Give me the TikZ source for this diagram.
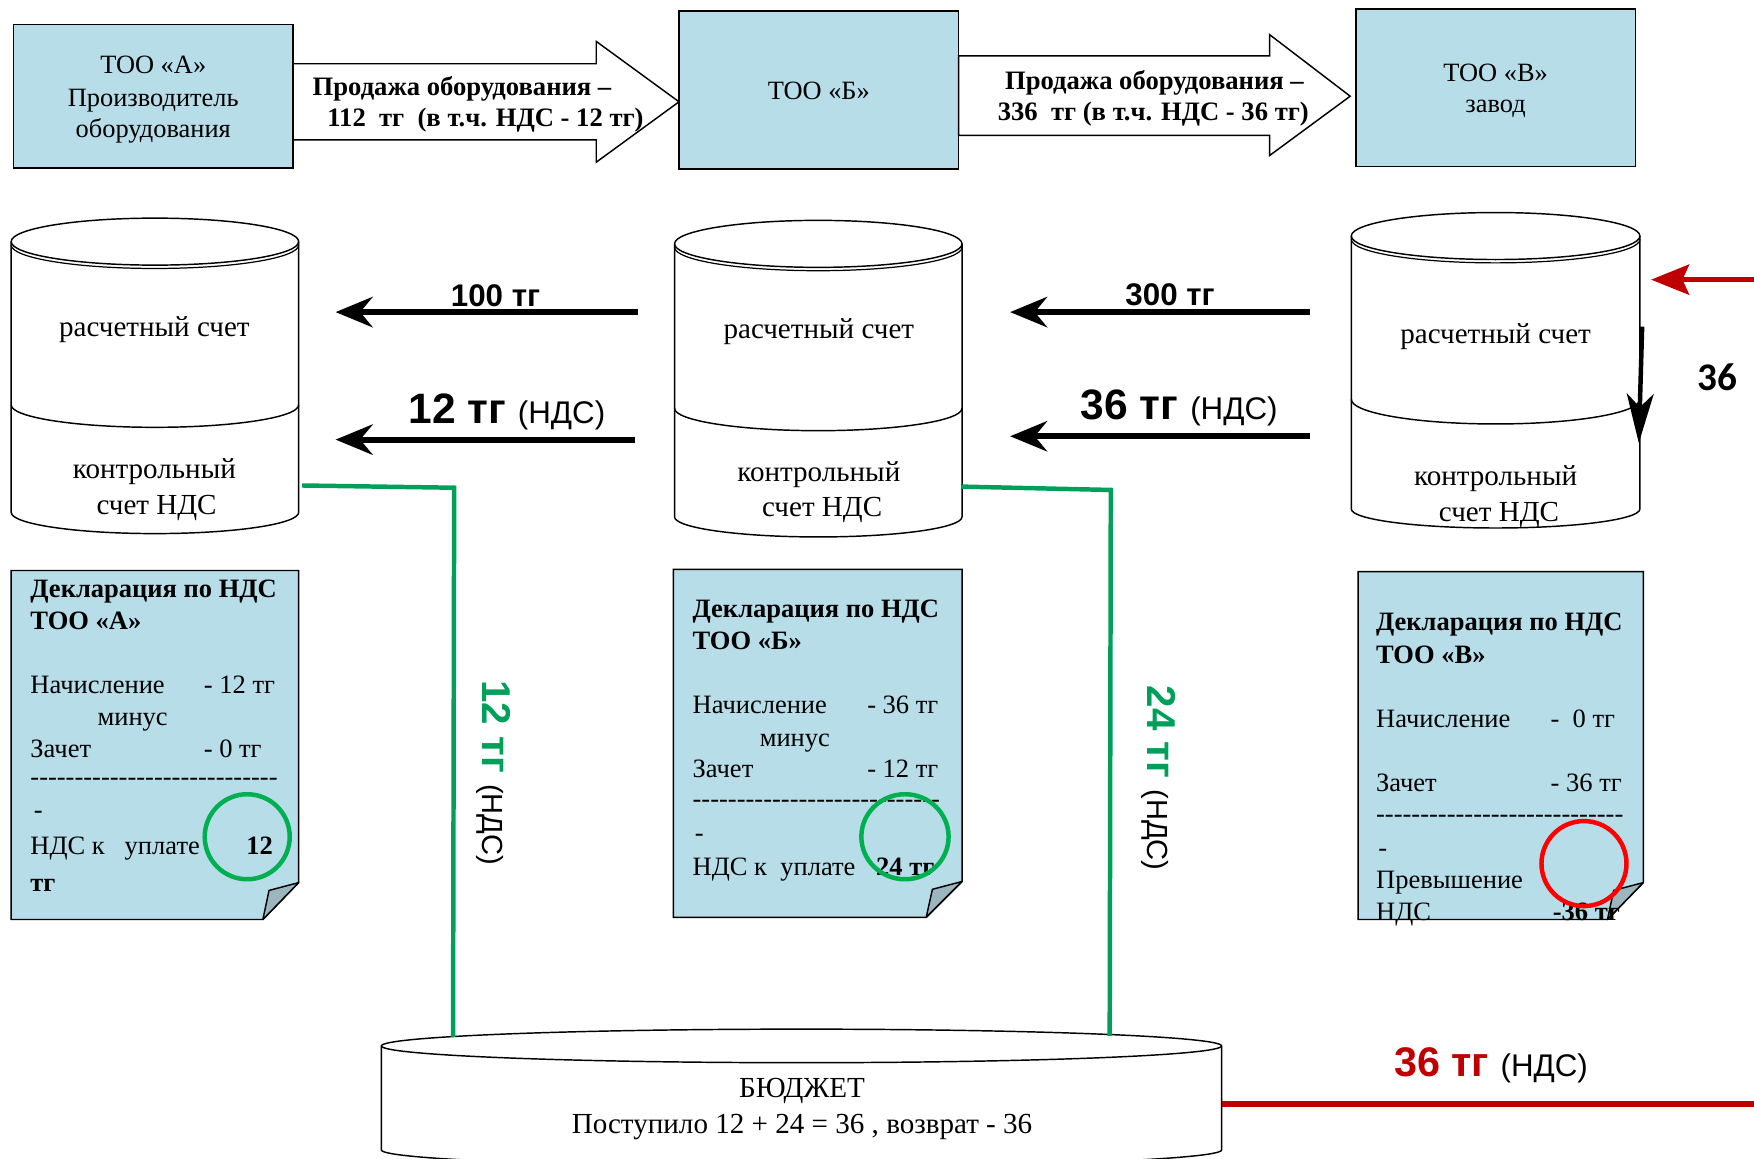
\documentclass[tikz,border=0pt]{standalone}
\usepackage{fontspec}
\setmainfont{Liberation Serif}
\newfontfamily\arialf{Liberation Sans}
\newfontfamily\carlitof{Carlito}
\usetikzlibrary{arrows.meta}
\definecolor{boxblue}{HTML}{B7DDE8}
\definecolor{flapgray}{HTML}{9BB6BE}
\definecolor{lgreen}{HTML}{00A05A}
\definecolor{cgreen}{HTML}{00B050}
\definecolor{dred}{HTML}{C00000}
\definecolor{bred}{HTML}{FF0000}
\newcommand\mydashrow{-{}-{}-{}-{}-{}-{}-{}-{}-{}-{}-{}-{}-{}-{}-{}-{}-{}-{}-{}-{}-{}-{}-{}-{}-{}-{}-{}-}
\begin{document}
\begin{tikzpicture}[x=1pt,y=-1pt,
  txt/.style={inner sep=0pt, anchor=base, font=\fontsize{23.7}{28}\selectfont},
  txtl/.style={txt, anchor=base west},
  txtr/.style={txt, anchor=base east},
  btxt/.style={txtl, font=\fontsize{23.7}{28}\selectfont\bfseries},
  ttxt/.style={inner sep=0pt, anchor=base, font=\fontsize{23.6}{28}\selectfont},
  ctxt/.style={inner sep=0pt, anchor=base, font=\fontsize{26}{30}\selectfont},
  arrtxt/.style={inner sep=0pt, anchor=base, font=\fontsize{23.8}{26}\selectfont\bfseries},
  boxs/.style={draw, line width=1.3pt, fill=boxblue, inner sep=0pt},
  shp/.style={draw, line width=1.3pt, fill=white},
  doc/.style={draw, line width=1.3pt, fill=boxblue},
  flap/.style={draw, line width=1.3pt, fill=flapgray, line join=round},
  flow/.style={line width=5.5pt, -{Stealth[length=33pt,width=27pt,inset=11pt]}},
  gline/.style={draw=lgreen, line width=4pt},
  lbl/.style={inner sep=0pt, font=\arialf},
]
\useasboundingbox (0,0) rectangle (1568,1036);

% ---------- top row ----------
\node[boxs, minimum width=250pt, minimum height=128pt] (boxA) at (137,86) {};
\node[boxs, minimum width=250pt, minimum height=141pt] (boxB) at (732,80.5) {};
\node[boxs, minimum width=250pt, minimum height=141pt] (boxC) at (1337,78.5) {};

\draw[shp] (262,57) -- (533,57) -- (533,37) -- (607,91) -- (533,145) -- (533,125) -- (262,125) -- cycle;
\draw[shp] (857,50) -- (1135,50) -- (1135,31) -- (1207,86) -- (1135,139) -- (1135,121) -- (857,121) -- cycle;

\node[ttxt] (a1) at (137,66) {ТОО «А»};
\node[ttxt] (a2) at (137,95) {Производитель};
\node[ttxt] (a3) at (137,123) {оборудования};
\node[ttxt] (b1) at (732,89) {ТОО «Б»};
\node[ttxt] (c1) at (1337,73) {ТОО «В»};
\node[ttxt] (c2) at (1337,101) {завод};

\node[arrtxt] (s1a) at (413,85) {Продажа оборудования –};
\node[arrtxt] (s1b) at (434,113) {112\ \ тг\ \ (в т.ч. НДС - 12 тг)};
\node[arrtxt] (s2a) at (1032,80) {Продажа оборудования –};
\node[arrtxt] (s2b) at (1031,108) {336\ \ тг (в т.ч. НДС - 36 тг)};

% ---------- cylinders ----------
% A
\fill[white] (10,216) -- (10,458) arc[start angle=180,end angle=360,x radius=128.5pt,y radius=19pt] -- (267,216) -- cycle;
\draw[line width=1.3pt] (10,216) -- (10,458) arc[start angle=180,end angle=360,x radius=128.5pt,y radius=19pt] -- (267,216);
\draw[line width=1.3pt] (138.5,216) ellipse[x radius=128.5pt,y radius=21pt];
\draw[line width=1.1pt] (10,219) arc[start angle=180,end angle=360,x radius=128.5pt,y radius=21pt];
\draw[line width=1.3pt] (10,362) arc[start angle=180,end angle=360,x radius=128.5pt,y radius=20pt];
% B
\fill[white] (603,218) -- (603,462) arc[start angle=180,end angle=360,x radius=128.5pt,y radius=18pt] -- (860,218) -- cycle;
\draw[line width=1.3pt] (603,218) -- (603,462) arc[start angle=180,end angle=360,x radius=128.5pt,y radius=18pt] -- (860,218);
\draw[line width=1.3pt] (731.5,218) ellipse[x radius=128.5pt,y radius=21pt];
\draw[line width=1.1pt] (603,221) arc[start angle=180,end angle=360,x radius=128.5pt,y radius=21pt];
\draw[line width=1.3pt] (603,365) arc[start angle=180,end angle=360,x radius=128.5pt,y radius=20pt];
% C
\fill[white] (1208,211) -- (1208,455) arc[start angle=180,end angle=360,x radius=129pt,y radius=17pt] -- (1466,211) -- cycle;
\draw[line width=1.3pt] (1208,211) -- (1208,455) arc[start angle=180,end angle=360,x radius=129pt,y radius=17pt] -- (1466,211);
\draw[line width=1.3pt] (1337,211) ellipse[x radius=129pt,y radius=21pt];
\draw[line width=1.1pt] (1208,214) arc[start angle=180,end angle=360,x radius=129pt,y radius=21pt];
\draw[line width=1.3pt] (1208,357) arc[start angle=180,end angle=360,x radius=129pt,y radius=22pt];

\node[ctxt] (ra) at (138,301) {расчетный счет};
\node[ctxt] (ka) at (138,428) {контрольный};
\node[ctxt] (na) at (140,460) {счет НДС};
\node[ctxt] (rb) at (732,303) {расчетный счет};
\node[ctxt] (kb) at (732,430) {контрольный};
\node[ctxt] (nb) at (735,462) {счет НДС};
\node[ctxt] (rc) at (1337,307) {расчетный счет};
\node[ctxt] (kc) at (1337,434) {контрольный};
\node[ctxt] (nc) at (1340,466) {счет НДС};

% ---------- declarations ----------
\draw[doc] (10,510) -- (267,510) -- (267,789) -- (235,822) -- (10,822) -- cycle;
\draw[flap] (267,789) -- (240.5,796) -- (235,822) -- cycle;
\draw[doc] (602,509) -- (860,509) -- (860,788) -- (828,820) -- (602,820) -- cycle;
\draw[flap] (860,788) -- (833.5,795) -- (828,820) -- cycle;
\draw[doc] (1214,511) -- (1469,511) -- (1469,789) -- (1437,822) -- (1214,822) -- cycle;
\draw[flap] (1469,789) -- (1442.5,796) -- (1437,822) -- cycle;

% doc A
\node[btxt] (da1) at (27,534) {Декларация по НДС};
\node[btxt] (da2) at (27,563) {ТОО «А»};
\node[txtl] (da3) at (27,620) {Начисление};
\node[txtr] (da3r) at (246,620) {- 12 тг};
\node[txtl] (da4) at (87,649) {минус};
\node[txtl] (da5) at (27,677) {Зачет};
\node[txtl] (da5r) at (182,677) {- 0 тг};
\node[txtl] (da6) at (27,702) {\mydashrow};
\node[txtl] (da7) at (30,732) {-};
\node[txtl] (da8) at (27,764) {НДС к\ \ \ уплате};
\node[btxt] (da8r) at (220,764) {12};
\node[btxt] (da9) at (27,797) {тг};
% doc B
\node[btxt] (db1) at (619,552) {Декларация по НДС};
\node[btxt] (db2) at (619,581) {ТОО «Б»};
\node[txtl] (db3) at (619,638) {Начисление};
\node[txtr] (db3r) at (839,638) {- 36 тг};
\node[txtl] (db4) at (679,667) {минус};
\node[txtl] (db5) at (619,695) {Зачет};
\node[txtr] (db5r) at (839,695) {- 12 тг};
\node[txtl] (db6) at (619,722) {\mydashrow};
\node[txtl] (db7) at (621,752) {-};
\node[txtl] (db8) at (619,783) {НДС к\ \ уплате};
\node[btxt] (db8r) at (783,783) {24 тг};
% doc C
\node[btxt] (dc1) at (1230,564) {Декларация по НДС};
\node[btxt] (dc2) at (1230,593) {ТОО «В»};
\node[txtl] (dc3) at (1230,650) {Начисление};
\node[txtl] (dc3r) at (1386,650) {-\ \ 0 тг};
\node[txtl] (dc5) at (1230,708) {Зачет};
\node[txtl] (dc5r) at (1386,708) {- 36 тг};
\node[txtl] (dc6) at (1230,735) {\mydashrow};
\node[txtl] (dc7) at (1232,766) {-};
\node[txtl] (dc8) at (1230,794) {Превышение};
\node[txtl] (dc9) at (1230,823) {НДС};
\node[btxt] (dc9r) at (1388,823) {-36 тг};

% ---------- budget ----------
\fill[white] (341,935) -- (341,1028) arc[start angle=180,end angle=360,x radius=375.5pt,y radius=15pt] -- (1092,935) -- cycle;
\draw[line width=1.3pt] (341,935) -- (341,1028) arc[start angle=180,end angle=360,x radius=375.5pt,y radius=15pt] -- (1092,935);
\draw[line width=1.3pt] (716.5,935) ellipse[x radius=375.5pt,y radius=15pt];
\node[ctxt] (bud1) at (717,981) {БЮДЖЕТ};
\node[ctxt] (bud2) at (717,1013) {Поступило 12 + 24 = 36 , возврат - 36};

% ---------- green flows ----------
\coordinate (gA0) at (270,434);
\coordinate (gA1) at (406,436);
\coordinate (gA2) at (405,927);
\coordinate (gB0) at (860,435);
\coordinate (gB1) at (993,438);
\coordinate (gB2) at (992,926);
\draw[gline] (gA0) -- (gA1) -- (gA2);
\draw[gline] (gB0) -- (gB1) -- (gB2);
\node[lbl, rotate=-90, anchor=base west] (v12) at (431,608)
  {{\bfseries\fontsize{36}{40}\selectfont\color{lgreen}12 тг\ }\fontsize{26}{30}\selectfont(НДС)};
\node[lbl, rotate=-90, anchor=base west] (v24) at (1026,613)
  {{\bfseries\fontsize{36}{40}\selectfont\color{lgreen}24 тг\ }\fontsize{26}{30}\selectfont(НДС)};

% ---------- black payment arrows ----------
\coordinate (p1s) at (570,279); \coordinate (p1e) at (300,279);
\coordinate (p2s) at (568,393); \coordinate (p2e) at (300,393);
\coordinate (p3s) at (1171,279); \coordinate (p3e) at (903,279);
\coordinate (p4s) at (1171,390); \coordinate (p4e) at (903,390);
\draw[flow] (p1s) -- (p1e);
\draw[flow] (p2s) -- (p2e);
\draw[flow] (p3s) -- (p3e);
\draw[flow] (p4s) -- (p4e);
\node[lbl, anchor=base, font=\arialf\bfseries\fontsize{28}{30}\selectfont] (l100) at (443,274) {100 тг};
\node[lbl, anchor=base, font=\arialf\bfseries\fontsize{28}{30}\selectfont] (l300) at (1046,273) {300 тг};
\node[lbl, anchor=base west] (l12) at (365,379)
  {{\bfseries\fontsize{38}{40}\selectfont 12 тг\ }\fontsize{28}{30}\selectfont(НДС)};
\node[lbl, anchor=base west] (l36) at (966,375)
  {{\bfseries\fontsize{38}{40}\selectfont 36 тг\ }\fontsize{28}{30}\selectfont(НДС)};

% ---------- refund ----------
\coordinate (rS) at (1568,250); \coordinate (rE) at (1476,250);
\draw[dred, line width=4pt, -{Stealth[length=34pt,width=27pt,inset=6pt]}] (rS) -- (rE);
\coordinate (vS) at (1468,292); \coordinate (vE) at (1465,396);
\draw[line width=4pt, -{Stealth[length=44pt,width=24pt,inset=12pt]}] (vS) -- (vE);
\node[inner sep=0pt, anchor=base, font=\carlitof\bfseries\fontsize{35}{38}\selectfont] (l36v) at (1535,349) {36};
\coordinate (bR0) at (1092,987); \coordinate (bR1) at (1568,987);
\draw[dred, line width=5pt] (bR0) -- (bR1);
\node[lbl, anchor=base west] (lr36) at (1246,962)
  {{\bfseries\fontsize{37}{40}\selectfont\color{dred}36 тг\ }\fontsize{28}{30}\selectfont(НДС)};

% ---------- circles ----------
\draw[cgreen, line width=4pt] (221,748) circle[radius=38pt];
\draw[cgreen, line width=4pt] (809,748) ellipse[x radius=39pt,y radius=38pt];
\draw[bred, line width=4pt] (1416,772) circle[radius=38pt];
\end{tikzpicture}
\end{document}
